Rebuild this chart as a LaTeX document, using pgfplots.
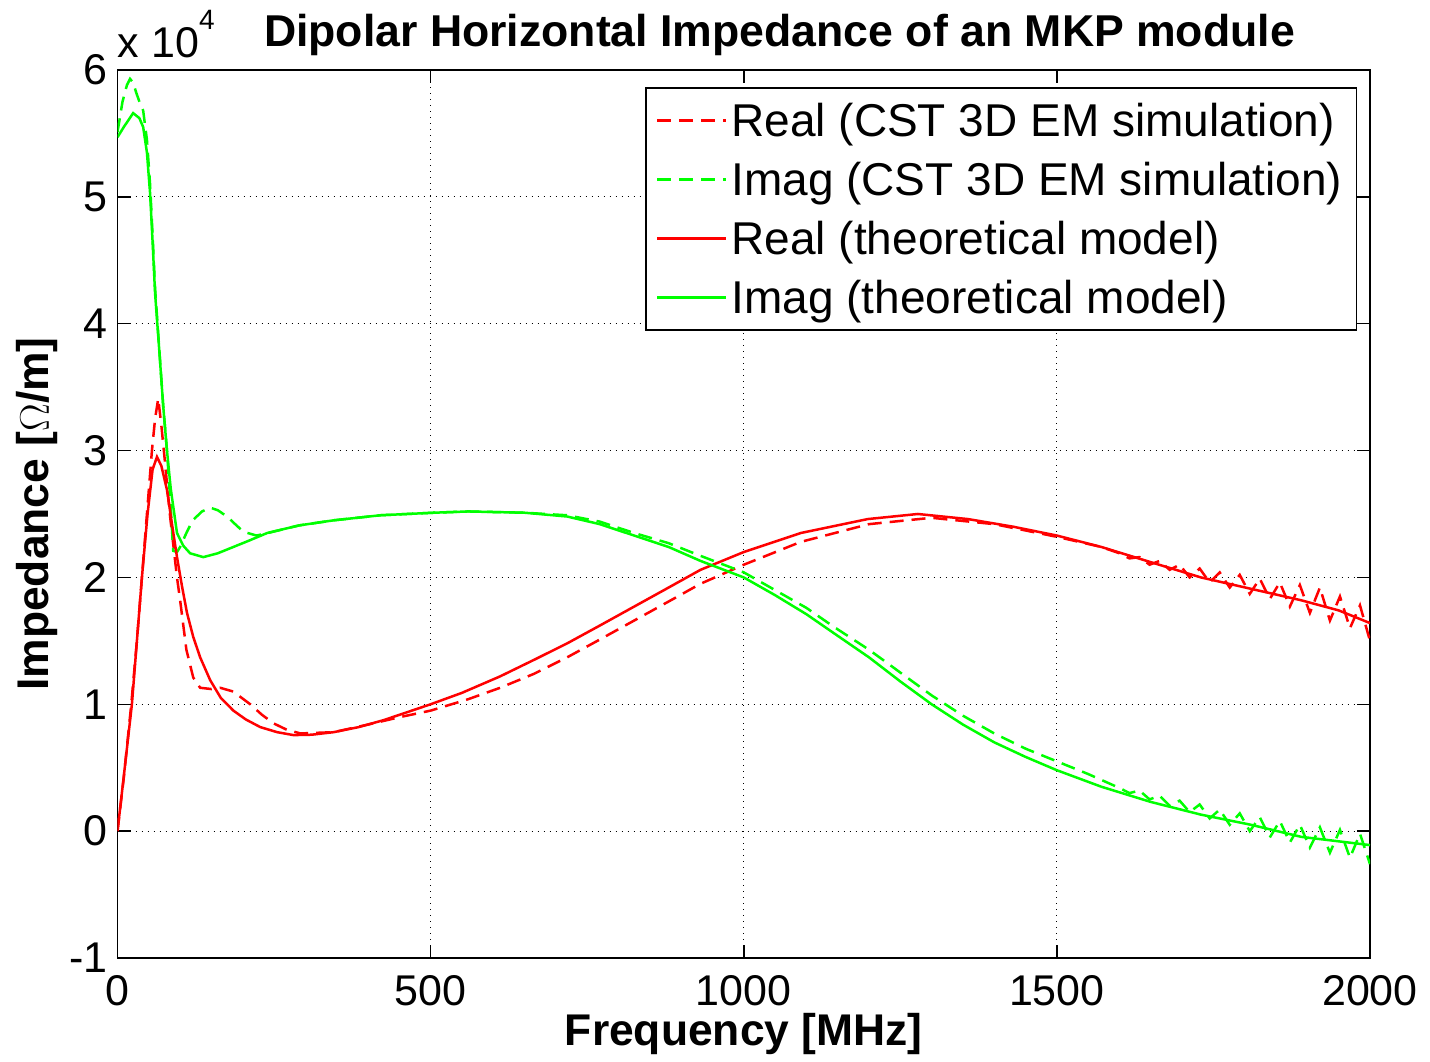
\documentclass[border=0pt]{standalone}
\usepackage{fontspec}
\setmainfont{Liberation Sans}
\usepackage{pgfplots}
\pgfplotsset{compat=1.18}
\definecolor{mred}{RGB}{255,0,0}
\definecolor{mgreen}{RGB}{0,255,0}
\begin{document}
\begin{tikzpicture}
\begin{axis}[
  name=ax,
  scale only axis,
  width=626.25pt, height=444pt,
  xmin=0, xmax=2000, ymin=-1, ymax=6,
  xtick={0,500,1000,1500,2000},
  xticklabels={0,500,1000,1500,2000},
  ytick={-1,0,1,2,3,4,5,6},
  yticklabels={-1,0,1,2,3,4,5,6},
  tick pos=both, ticklabel pos=left,
  tick align=inside,
  major tick length=6.5pt,
  every tick/.style={black, line width=0.75pt},
  axis line style={black, line width=0.75pt},
  grid=major,
  major grid style={black, line width=0.6pt, dash pattern=on 0.6pt off 2.4pt},
  tick label style={font=\fontsize{21.5}{25}\selectfont},
  xticklabel style={anchor=north, inner sep=0pt},
  xticklabel shift=8.5pt,
  yticklabel style={anchor=east, inner sep=0pt},
  yticklabel shift=4.75pt,
  legend cell align=left,
  legend image code/.code={\draw[#1] (0pt,0pt) -- (34.5pt,0pt);},
  legend style={at={(0.9896,0.9805)}, anchor=north east, draw=black, line width=0.6pt,
    font=\fontsize{23}{27}\selectfont, inner xsep=5pt, inner ysep=5.5pt, row sep=8pt,
    nodes={inner sep=2pt, text height=17pt, text depth=0.5pt}},
]
\addplot[mred, line width=1.25pt, dash pattern=on 7pt off 4pt] coordinates {
(0,0) (10,0.42) (22,1.0) (31,1.5) (39,2.0) (47,2.5) (55,3.0) (60,3.25) (65,3.41)
(70,3.2) (75,2.95) (84,2.48) (95,2.0) (100,1.82) (110,1.43) (121,1.21) (132,1.13)
(150,1.12) (164,1.13) (185,1.10) (212,1.0) (230,0.92) (249,0.85) (270,0.80) (292,0.77)
(345,0.78) (400,0.84) (452,0.90) (500,0.95) (560,1.04) (611,1.13) (665,1.24) (718,1.37)
(770,1.51) (825,1.66) (880,1.81) (931,1.95)
(1000,2.10) (1091,2.28) (1200,2.42) (1300,2.47) (1400,2.42) (1500,2.32) (1571,2.24)
(1600,2.19) (1616,2.15) (1632,2.16) (1648,2.10) (1664,2.13) (1680,2.06) (1696,2.10)
(1712,2.00) (1728,2.07) (1744,1.96) (1760,2.04) (1776,1.92) (1792,2.02) (1808,1.87)
(1824,1.99) (1840,1.83) (1856,1.96) (1872,1.77) (1888,1.94) (1904,1.72) (1920,1.92)
(1936,1.66) (1952,1.85) (1968,1.60) (1984,1.78) (2000,1.50)
};
\addlegendentry{Real (CST 3D EM simulation)}
\addplot[mgreen, line width=1.25pt, dash pattern=on 7pt off 4pt] coordinates {
(0,5.51) (8,5.75) (15,5.88) (20,5.93) (25,5.90) (30,5.82) (35,5.75) (41,5.68) (47,5.45)
(52,5.1) (56,4.7) (60,4.28) (67,3.78) (73,3.35) (79,3.0) (85,2.55) (89,2.21) (95,2.2)
(100,2.24) (110,2.35) (120,2.45) (135,2.52) (148,2.55) (160,2.53) (175,2.48) (190,2.41)
(201,2.36) (222,2.33) (240,2.35) (290,2.41) (345,2.45) (420,2.49) (505,2.51) (560,2.52)
(650,2.51) (718,2.49) (770,2.44) (825,2.35) (880,2.27) (931,2.17) (1000,2.04) (1100,1.76)
(1144,1.61) (1200,1.43) (1250,1.25) (1300,1.07) (1350,0.91) (1400,0.77) (1450,0.65)
(1500,0.55) (1550,0.45)
(1600,0.34) (1616,0.30) (1632,0.32) (1648,0.25) (1664,0.28) (1680,0.20) (1696,0.24)
(1712,0.15) (1728,0.21) (1744,0.10) (1760,0.17) (1776,0.05) (1792,0.14) (1808,0.00)
(1824,0.11) (1840,-0.05) (1856,0.08) (1872,-0.09) (1888,0.05) (1904,-0.13) (1920,0.03)
(1936,-0.17) (1952,0.01) (1968,-0.21) (1984,-0.02) (2000,-0.26)
};
\addlegendentry{Imag (CST 3D EM simulation)}
\addplot[mred, line width=1.25pt] coordinates {
(0,0) (10,0.43) (23,1.0) (31,1.5) (39,2.0) (48,2.5) (56,2.85) (63,2.95) (70,2.88)
(79,2.69) (87,2.42) (95,2.16) (103,1.93) (111,1.72) (121,1.53) (132,1.37) (148,1.19)
(165,1.05) (185,0.95) (205,0.88) (228,0.82) (255,0.78) (281,0.757) (310,0.76) (345,0.78)
(385,0.82) (425,0.875) (452,0.92) (500,1.0) (550,1.09) (611,1.22) (665,1.35) (718,1.48)
(770,1.62) (825,1.77) (880,1.92)
(931,2.06) (1000,2.20) (1091,2.35) (1198,2.46) (1278,2.50) (1358,2.46) (1430,2.40)
(1500,2.33) (1571,2.24) (1650,2.12) (1730,2.00) (1810,1.91) (1890,1.82) (1950,1.74)
(2000,1.64)
};
\addlegendentry{Real (theoretical model)}
\addplot[mgreen, line width=1.25pt] coordinates {
(0,5.47) (10,5.55) (25,5.66) (35,5.62) (41,5.55) (47,5.35) (52,5.03) (56,4.65) (60,4.24)
(67,3.77) (73,3.35) (79,3.0) (85,2.7) (95,2.35) (105,2.25) (116,2.19) (137,2.16)
(160,2.19) (185,2.24) (210,2.29) (239,2.35) (290,2.41) (345,2.45) (420,2.49) (505,2.51)
(560,2.52) (650,2.51) (718,2.48) (770,2.42) (825,2.33) (880,2.24) (931,2.13) (1000,2.0)
(1050,1.86) (1100,1.71) (1144,1.56) (1200,1.37) (1250,1.18) (1300,1.0) (1350,0.84)
(1400,0.70) (1450,0.585) (1500,0.48) (1571,0.35) (1650,0.23)
(1730,0.13) (1810,0.05) (1890,-0.045) (2000,-0.11)
};
\addlegendentry{Imag (theoretical model)}
\end{axis}
\node[anchor=base west, inner sep=0pt, font=\fontsize{21.5}{25}\selectfont]
  at ([yshift=6pt]ax.north west) {x 10\raisebox{14pt}{\fontsize{14}{16}\selectfont 4}};
\node[anchor=base, inner sep=0pt, font=\fontsize{22.3}{26}\selectfont\bfseries]
  at ([xshift=331pt,yshift=11.5pt]ax.north west) {Dipolar Horizontal Impedance of an MKP module};
\node[anchor=base, inner sep=0pt, font=\fontsize{22.2}{26}\selectfont\bfseries]
  at ([yshift=-44pt]ax.south) {Frequency [MHz]};
\node[anchor=base, rotate=90, inner sep=0pt, font=\fontsize{22.2}{26}\selectfont\bfseries]
  at ([xshift=-34.25pt]ax.west) {Impedance [$\Omega$/m]};
\pgfresetboundingbox
\path[use as bounding box] ([shift={(-58.75pt,-52pt)}]ax.south west) rectangle ([shift={(30pt,35pt)}]ax.north east);
\end{tikzpicture}
\end{document}
